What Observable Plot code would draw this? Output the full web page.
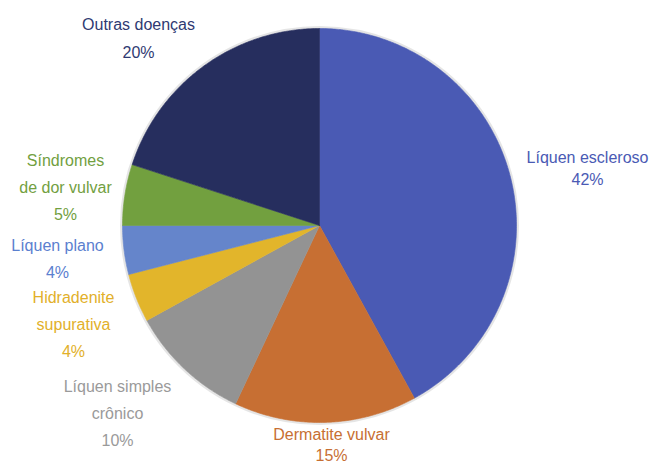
<!DOCTYPE html>
<html>
<head>
<meta charset="utf-8">
<script src="https://cdn.jsdelivr.net/npm/d3@7"></script>
<script src="https://cdn.jsdelivr.net/npm/@observablehq/plot@0.6"></script>
<style>
  html, body { margin: 0; padding: 0; background: #fff; }
  #chart svg { display: block; }
</style>
</head>
<body>
<div id="chart"></div>
<script>
// ---- data ----
const categories = ["Líquen escleroso", "Dermatite vulvar", "Líquen simples crônico", "Hidradenite supurativa", "Líquen plano", "Síndromes de dor vulvar", "Outras doenças"];
const values = [42, 15, 10, 4, 4, 5, 20];
const labelTexts = ["Líquen escleroso", "Dermatite vulvar", "Líquen simples\ncrônico", "Hidradenite\nsupurativa", "Líquen plano", "Síndromes\nde dor vulvar", "Outras doenças"];

// ---- styles / layout ----
const sliceColors = ["#4a5ab4", "#c76f33", "#939393", "#e2b52b", "#6585cb", "#72a03f", "#262e5e"];
const textColors = ["#4a5ab4", "#c76f33", "#9a9a9a", "#e2b02a", "#5b80cf", "#72a03f", "#2f3a72"];
// label block centers in pixels, and line heights (em)
const labelPx = [[587, 166], [331, 443], [117, 410], [73, 320.5], [57, 255.5], [65, 184], [138, 35]];
const labelLH = [1.375, 1.35, 1.7, 1.7, 1.7, 1.7, 1.75];

const W = 649, H = 464, CX = 319, CY = 225, R = 197;

// pie geometry from the values
const arcs = d3.pie().sort(null).value(d => d)(values);
const pts = [];
arcs.forEach((a, i) => {
  const cat = categories[i];
  pts.push({cat, x: 0, y: 0});
  const n = Math.max(2, Math.ceil((a.endAngle - a.startAngle) / (Math.PI / 360)));
  for (let k = 0; k <= n; k++) {
    const t = a.startAngle + (a.endAngle - a.startAngle) * k / n;
    pts.push({cat, x: Math.sin(t), y: Math.cos(t)});
  }
  pts.push({cat, x: 0, y: 0});
});

const toX = px => (px - CX) / R;
const toY = py => (CY - py) / R;
const labels = categories.map((c, i) => ({
  cat: c,
  text: `${labelTexts[i]}\n${values[i]}%`,
  x: toX(labelPx[i][0]),
  y: toY(labelPx[i][1]),
  color: textColors[i],
  lh: labelLH[i]
}));

const marks = [
  Plot.dot([{x: 0, y: 0}], {x: "x", y: "y", r: R + 1, fill: "none", stroke: "#000", strokeOpacity: 0.10, strokeWidth: 3}),
  Plot.line(pts, {x: "x", y: "y", z: "cat", fill: "cat", stroke: "cat", strokeWidth: 0.6, curve: "linear"})
];
labels.forEach(l => {
  marks.push(Plot.text([l], {
    x: "x", y: "y", text: "text",
    fill: l.color, fontSize: 16, lineHeight: l.lh,
    textAnchor: "middle", lineAnchor: "middle"
  }));
});

const chart = Plot.plot({
  width: W, height: H,
  margin: 0,
  style: {fontFamily: "'Liberation Sans', Arial, Helvetica, sans-serif", background: "#fff"},
  x: {domain: [-1, 1], range: [CX - R, CX + R], axis: null},
  y: {domain: [-1, 1], range: [CY + R, CY - R], axis: null},
  color: {domain: categories, range: sliceColors},
  marks
});
document.getElementById("chart").appendChild(chart);
</script>
</body>
</html>
